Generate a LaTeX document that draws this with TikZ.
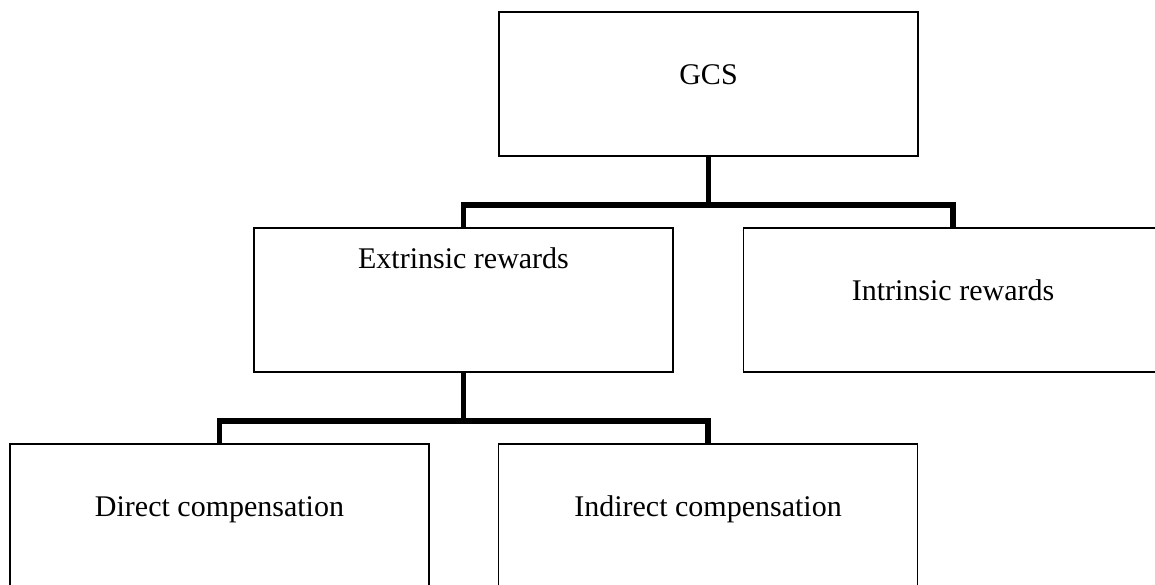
\documentclass[tikz,border=0pt]{standalone}
\usepackage{fontspec}
\setmainfont{Liberation Serif}
\begin{document}
\begin{tikzpicture}[x=1pt,y=-1pt,
    box/.style={draw,line width=1.8pt,minimum width=419pt,minimum height=144pt,
      inner sep=0pt,font=\fontsize{30}{36}\selectfont,text height=11pt,text depth=11pt},
    conn/.style={draw,line width=5.5pt}]

        \clip (0,0) rectangle (1155,584);

        \begin{scope}[every node/.style={box}]
          \node (gcs)      at (708.5,84)  {GCS};
          \node[text depth=75pt] (extr) at (463.5,300) {Extrinsic rewards};
          \node (intr)     at (953,300)   {Intrinsic rewards};
          \node (direct)   at (219.5,516) {Direct compensation};
          \node (indirect) at (708,516)   {Indirect compensation};
        \end{scope}

        \begin{scope}[every path/.style={conn}]
          \path (gcs.south)  -- ++(0,48) -| (extr.north);
          \path (gcs.south)  -- ++(0,48) -| (intr.north);
          \path (extr.south) -- ++(0,48) -| (direct.north);
          \path (extr.south) -- ++(0,48) -| (indirect.north);
        \end{scope}

      \end{tikzpicture}
\end{document}
